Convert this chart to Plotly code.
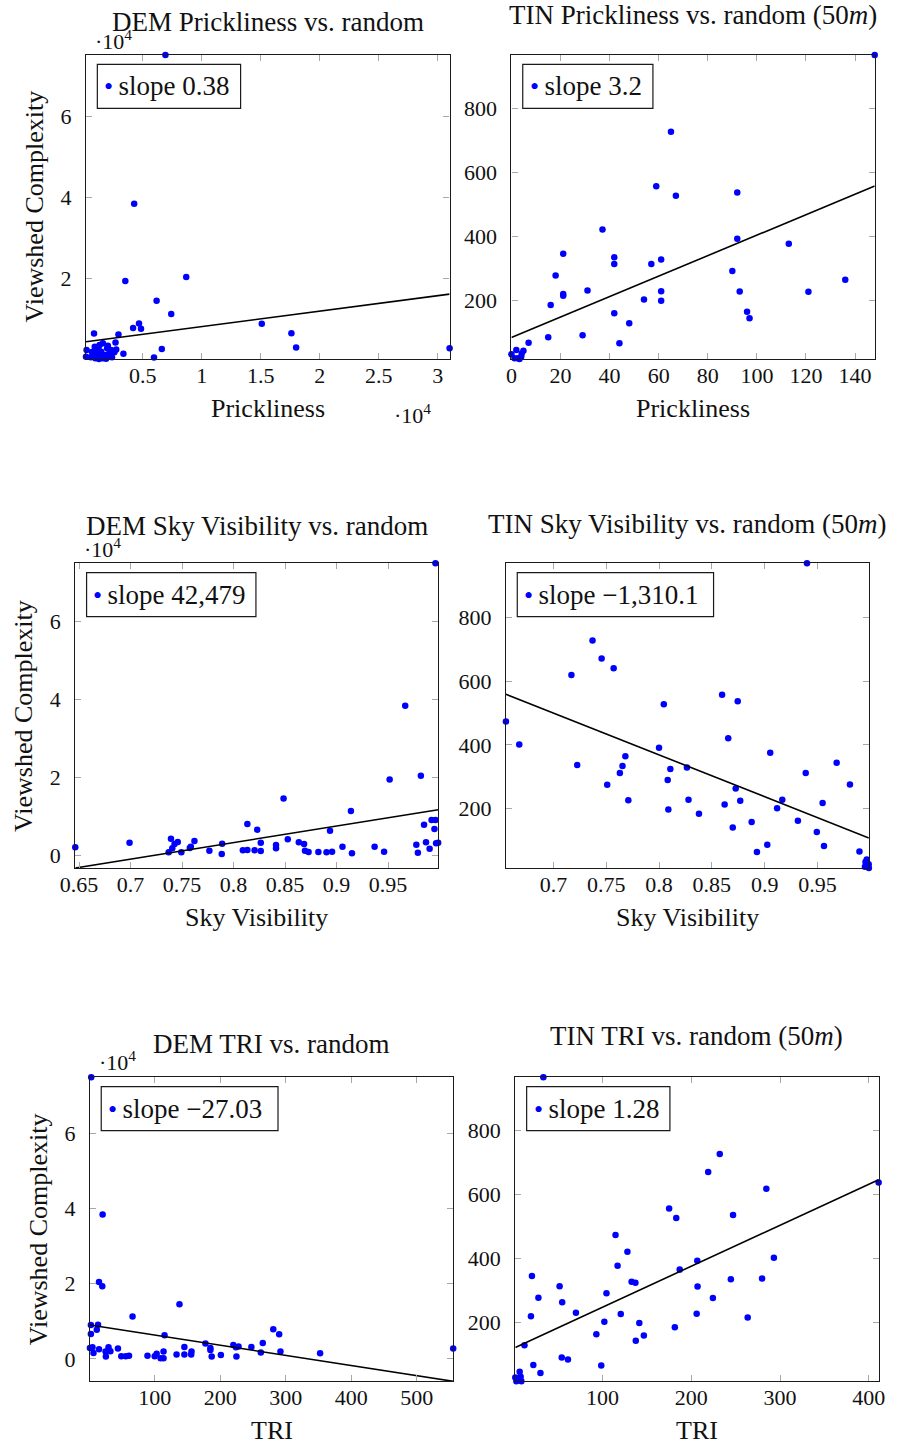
import plotly.graph_objects as go

# ---------------- DATA ----------------
# DEM Prickliness vs. random
DEM_PRICK_X = [6930, 4280, 3530, 8690, 6180, 7420, 4690, 4190, 4860, 15090, 17600, 18000,
               31000, 6620, 5960, 880, 2950, 2700, 3370, 2760,
               250, 200, 610, 940, 1350, 1630, 1990, 2320, 1160, 1490, 1820, 2180,
               990, 1630, 2400, 1300, 1750, 800, 2050, 1100, 1450, 2600, 700, 1900, 2200, 1250]
DEM_PRICK_Y = [75000, 38400, 19400, 20400, 14600, 11300, 9000, 7900, 7700, 8900, 6600, 3100,
               2900, 2700, 600, 6500, 6300, 4300, 1560, 2600,
               2460, 820, 650, 3280, 3690, 4100, 2870, 2460, 1640, 2050, 1230, 1640,
               410, 410, 660, 250, 800, 1200, 3500, 2500, 1000, 1900, 2000, 300, 1100, 3000]

# TIN Prickliness vs. random (50m)
TIN_PRICK_X = [148, 65, 59, 67, 92, 37.1, 21.1, 41.9, 41.9, 57, 61, 18, 21.1, 21.1, 31, 16,
               54, 61, 61, 92, 113, 90, 93, 121, 136, 96, 97, 41.9, 48, 15, 29, 44, 7, 4.9,
               0, 2, 2.7, 4, 3.3, 1.3, 4.2]
TIN_PRICK_Y = [967, 727, 557, 527, 537, 422, 346, 335, 314, 314, 328, 278, 220, 215, 231, 186,
               203, 229, 199, 393, 377, 292, 228, 227, 265, 165, 144, 160, 129, 85, 91, 66, 68, 43,
               32, 45, 19, 24, 17, 19, 34]

# DEM Sky Visibility vs. random
DEM_SKY_X = [0.996, 0.9666, 0.9515, 0.9818, 0.8485, 0.9139, 0.8134, 0.8229, 0.8936, 0.9849,
             0.9922, 0.996, 0.995, 0.6463, 0.699, 0.7392, 0.7458, 0.7427, 0.7405, 0.737,
             0.7493, 0.7575, 0.7585, 0.762, 0.7765, 0.7889, 0.7885, 0.809, 0.8134, 0.8204,
             0.8264, 0.8264, 0.8412, 0.8412, 0.8526, 0.8633, 0.8684, 0.8693, 0.8728, 0.8823,
             0.8902, 0.8956, 0.9057, 0.9149, 0.9369, 0.9461, 0.9774, 0.9789, 0.9868, 0.9903,
             0.9966, 0.9986]
DEM_SKY_Y = [75000, 38400, 19500, 20450, 14630, 11380, 8040, 6590, 6330, 7870,
             9070, 9070, 6760, 2050, 3250, 4280, 3420, 2910, 1800, 770,
             770, 1880, 2220, 3680, 1200, 3000, 340, 1280, 1370, 1280,
             3250, 1110, 2650, 1800, 4110, 3340, 2910, 1200, 860, 860,
             770, 940, 2220, 510, 2220, 940, 2740, 680, 3340, 1710,
             3080, 3250]

# TIN Sky Visibility vs. random (50m)
TIN_SKY_X = [0.9401, 0.737, 0.7456, 0.757, 0.717, 0.655, 0.6676, 0.7225, 0.7509, 0.7629,
             0.7654, 0.7681, 0.7709, 0.8045, 0.8, 0.8107, 0.8082, 0.8088, 0.8264, 0.8279,
             0.8378, 0.8597, 0.8745, 0.8655, 0.8726, 0.8621, 0.8769, 0.8698, 0.8877, 0.8927,
             0.9025, 0.9053, 0.9118, 0.9167, 0.9315, 0.9389, 0.9494, 0.9549, 0.9562, 0.9682,
             0.9808, 0.9898, 0.9955, 0.9967, 0.9985, 0.995, 0.9987, 0.997]
TIN_SKY_Y = [969, 727, 671, 640, 619, 473, 401, 337, 275, 312,
             334, 364, 226, 527, 391, 324, 290, 197, 329, 228,
             184, 557, 537, 421, 263, 213, 225, 141, 158, 64,
             87, 375, 201, 228, 162, 312, 127, 218, 83, 344,
             276, 66, 33, 41, 26, 18, 14, 23]

# DEM TRI vs. random
DEM_TRI_X = [3.1, 20.5, 15, 20, 137.8, 66.2, 115, 2.6, 13.5, 11.6, 2.6, 281, 290, 1.1, 5, 6.6,
             15, 25, 29.5, 32.4, 43.9, 25.5, 49, 55.8, 60.8, 89, 100, 103, 109, 113.5, 113.5,
             133.4, 145.3, 145.3, 155.7, 156.2, 177.5, 185, 185, 187, 201, 220, 224, 228,
             224.8, 247.6, 265, 262, 292, 352.5, 555.7]
DEM_TRI_Y = [75000, 38440, 20500, 19350, 14580, 11310, 6270, 9010, 9100, 7780, 6630, 7870, 6540,
             2920, 3090, 1590, 2560, 1940, 3090, 2030, 2740, 620, 710, 710, 800, 800, 710, 1330,
             180, 1940, 180, 1150, 3180, 1150, 1150, 1940, 4070, 2920, 2390, 620, 1060, 3710,
             3090, 3270, 620, 3180, 4240, 1680, 1940, 1500, 2740]

# TIN TRI vs. random (50m)
TIN_TRI_X = [33.3, 232, 219, 284.5, 411, 175, 183, 247, 114.6, 128, 116.9, 206.7, 186.9, 293,
             132.7, 137, 244.5, 279.7, 20.4, 51.6, 207, 27.7, 54.5, 104.4, 224.3, 70, 120.5,
             206, 19.3, 102, 141.4, 263.5, 93, 146.5, 137.4, 181.4, 12, 54, 61, 22, 98.5, 30,
             1.7, 2.9, 6.6, 7.7, 8.5, 4.8]
TIN_TRI_Y = [966, 726, 670, 618, 637, 556, 526, 536, 473, 421, 377, 393, 365, 402,
             327, 324, 335, 337, 345, 313, 312, 277, 263, 291, 276, 230, 226,
             227, 219, 202, 198, 215, 163, 159, 143, 185, 129, 90, 84, 67, 65, 42,
             28, 16, 46, 30, 16, 21]

# Fitted lines (slope, intercept) and legend labels
SLOPES = [0.38, 3.2, 42479, -1310.1, -27.03, 1.28]
INTERCEPTS = [4424, 84, -30704, 1416.6, 9045, 119.7]
LEGEND_LABELS = ["slope 0.38", "slope 3.2", "slope 42,479", "slope \u22121,310.1",
                 "slope \u221227.03", "slope 1.28"]
TITLES = ["DEM Prickliness vs. random", "TIN Prickliness vs. random (50<i>m</i>)",
          "DEM Sky Visibility vs. random", "TIN Sky Visibility vs. random (50<i>m</i>)",
          "DEM TRI vs. random", "TIN TRI vs. random (50<i>m</i>)"]
X_LABELS = ["Prickliness", "Prickliness", "Sky Visibility", "Sky Visibility", "TRI", "TRI"]
Y_LABEL = "Viewshed Complexity"

# Tick values / labels
X_TICKS = [
    ([5000, 10000, 15000, 20000, 25000, 30000], ["0.5", "1", "1.5", "2", "2.5", "3"]),
    ([0, 20, 40, 60, 80, 100, 120, 140], ["0", "20", "40", "60", "80", "100", "120", "140"]),
    ([0.65, 0.7, 0.75, 0.8, 0.85, 0.9, 0.95], ["0.65", "0.7", "0.75", "0.8", "0.85", "0.9", "0.95"]),
    ([0.7, 0.75, 0.8, 0.85, 0.9, 0.95], ["0.7", "0.75", "0.8", "0.85", "0.9", "0.95"]),
    ([100, 200, 300, 400, 500], ["100", "200", "300", "400", "500"]),
    ([100, 200, 300, 400], ["100", "200", "300", "400"]),
]
Y_TICKS = [
    ([0, 20000, 40000, 60000], ["0", "2", "4", "6"]),
    ([200, 400, 600, 800], ["200", "400", "600", "800"]),
    ([0, 20000, 40000, 60000], ["0", "2", "4", "6"]),
    ([200, 400, 600, 800], ["200", "400", "600", "800"]),
    ([0, 20000, 40000, 60000], ["0", "2", "4", "6"]),
    ([200, 400, 600, 800], ["200", "400", "600", "800"]),
]
DATA = [(DEM_PRICK_X, DEM_PRICK_Y), (TIN_PRICK_X, TIN_PRICK_Y), (DEM_SKY_X, DEM_SKY_Y),
        (TIN_SKY_X, TIN_SKY_Y), (DEM_TRI_X, DEM_TRI_Y), (TIN_TRI_X, TIN_TRI_Y)]

# ---------------- LAYOUT (pixels) ----------------
W, H = 898, 1446
FONT = "Liberation Serif, Times New Roman, serif"
TXT = "#111111"
BLUE = "#0000ff"

# plot-area boxes: left, right, top, bottom
BOXES = [(72.7, 445, 55, 359), (508.3, 880.3, 55, 359),
         (61.7, 433.3, 563.3, 868), (502.7, 874.3, 563.3, 868),
         (76.7, 448.7, 1077.3, 1381.3), (512.3, 884.3, 1077.3, 1381.3)]
TITLE_Y = [22, 15, 525.5, 524, 1043.7, 1036]
XLABEL_Y = [408.7, 408.7, 917, 917, 1430, 1430]
YLABEL_X = {0: 20, 2: 8.5, 4: 23.5}
EXP_TOP = {0: (100.5, 40), 2: (89.5, 547.5), 4: (104.7, 1061)}
EXP_X = {0: (407, 414)}
LEG_W = [146.7, 133.3, 173.4, 201, 181, 146.7]


def fx(p):
    return p / W


def fy(p):
    return 1 - p / H


fig = go.Figure()
annotations = []
shapes = []
layout_axes = {}

for i, ((xs, ys), (l, r, t, b)) in enumerate(zip(DATA, BOXES)):
    n = i + 1
    xa = "x" if n == 1 else f"x{n}"
    ya = "y" if n == 1 else f"y{n}"
    xr = [min(xs), max(xs)]
    line_y = [SLOPES[i] * v + INTERCEPTS[i] for v in xr]
    yr = [min(min(ys), *line_y), max(max(ys), *line_y)]

    fig.add_trace(go.Scatter(x=xs, y=ys, mode="markers", name=LEGEND_LABELS[i],
                             marker=dict(color=BLUE, size=6.5, line=dict(width=0)),
                             cliponaxis=False, showlegend=False, xaxis=xa, yaxis=ya))
    fig.add_trace(go.Scatter(x=xr, y=line_y, mode="lines", name="fit",
                             line=dict(color="black", width=1.6),
                             showlegend=False, xaxis=xa, yaxis=ya, hoverinfo="skip"))

    common = dict(showgrid=False, zeroline=False, showline=True, linecolor="#1a1a1a",
                  linewidth=1.2, mirror="ticks", ticks="inside", ticklen=6,
                  tickcolor="#a8a8a8", tickwidth=1.2,
                  tickfont=dict(family=FONT, size=22, color=TXT))
    layout_axes["xaxis" if n == 1 else f"xaxis{n}"] = dict(
        common, domain=[fx(l), fx(r)], range=xr, anchor=ya,
        tickmode="array", tickvals=X_TICKS[i][0], ticktext=X_TICKS[i][1],
        ticklabelstandoff=-4)
    layout_axes["yaxis" if n == 1 else f"yaxis{n}"] = dict(
        common, domain=[fy(b), fy(t)], range=yr, anchor=xa,
        tickmode="array", tickvals=Y_TICKS[i][0], ticktext=Y_TICKS[i][1],
        ticklabelstandoff=9)

    cx = (l + r) / 2
    annotations.append(dict(text=TITLES[i], x=fx(cx), y=fy(TITLE_Y[i]), xref="paper",
                            yref="paper", showarrow=False, xanchor="center", yanchor="middle",
                            font=dict(family=FONT, size=27, color=TXT)))
    annotations.append(dict(text=X_LABELS[i], x=fx(cx), y=fy(XLABEL_Y[i]), xref="paper",
                            yref="paper", showarrow=False, xanchor="center", yanchor="middle",
                            font=dict(family=FONT, size=26, color=TXT)))
    if i in YLABEL_X:
        annotations.append(dict(text=Y_LABEL, x=fx(YLABEL_X[i]), y=fy((t + b) / 2),
                                xref="paper", yref="paper", showarrow=False, textangle=-90,
                                xanchor="center", yanchor="middle",
                                font=dict(family=FONT, size=26, color=TXT)))
    if i in EXP_TOP:
        ex, ey = EXP_TOP[i]
        annotations.append(dict(text="\u00b710<sup>4</sup>", x=fx(ex), y=fy(ey), xref="paper",
                                yref="paper", showarrow=False, xanchor="center",
                                yanchor="middle", font=dict(family=FONT, size=22, color=TXT)))
    if i in EXP_X:
        ex, ey = EXP_X[i]
        annotations.append(dict(text="\u00b710<sup>4</sup>", x=fx(ex), y=fy(ey), xref="paper",
                                yref="paper", showarrow=False, xanchor="center",
                                yanchor="middle", font=dict(family=FONT, size=22, color=TXT)))

    # legend box
    bl, bt = l + 11.6, t + 9.3
    br, bb = bl + LEG_W[i], bt + 44
    shapes.append(dict(type="rect", xref="paper", yref="paper", x0=fx(bl), x1=fx(br),
                       y0=fy(bb), y1=fy(bt), line=dict(color="#1a1a1a", width=1.2),
                       fillcolor="white", layer="above"))
    annotations.append(dict(
        text=f"<span style='color:{BLUE};font-size:26px'>\u2022</span>\u2009{LEGEND_LABELS[i]}",
        x=fx(bl + 5), y=fy((bt + bb) / 2), xref="paper", yref="paper", showarrow=False,
        xanchor="left", yanchor="middle", font=dict(family=FONT, size=27, color=TXT)))

fig.update_layout(width=W, height=H, margin=dict(l=0, r=0, t=0, b=0),
                  paper_bgcolor="white", plot_bgcolor="white", showlegend=False,
                  annotations=annotations, shapes=shapes, **layout_axes)
fig.write_html("out.html")
